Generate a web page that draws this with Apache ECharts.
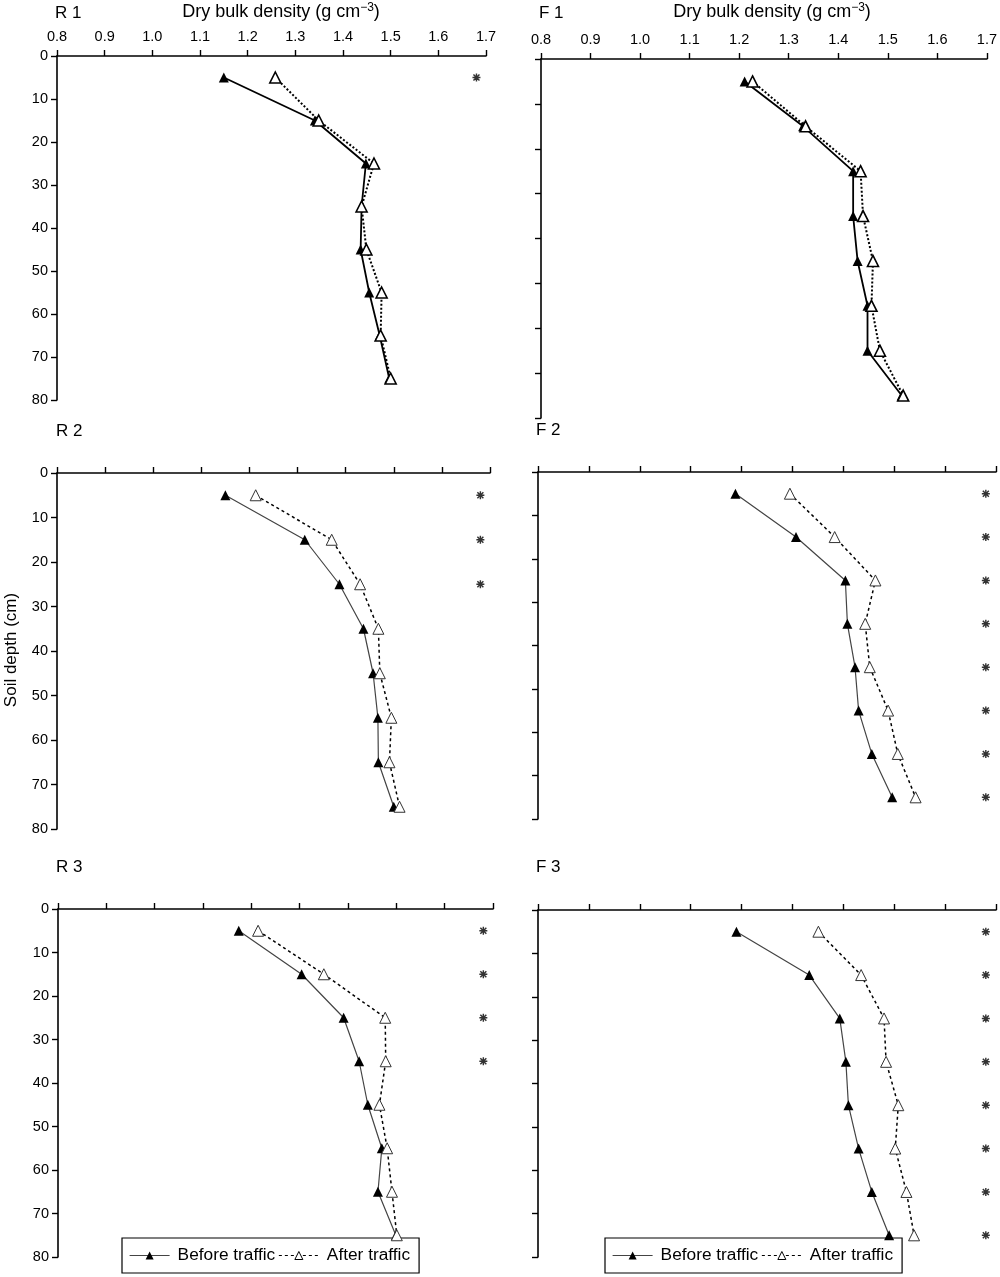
<!DOCTYPE html>
<html><head><meta charset="utf-8">
<script src="https://cdn.jsdelivr.net/npm/echarts@6/dist/echarts.min.js"></script>
<style>html,body{margin:0;padding:0;background:#fff}#c{width:1000px;height:1277px}</style>
</head><body><div id="c"></div>
<script>
// ---- data ----
const depths = [5, 15, 25, 35, 45, 55, 65, 75];
const xTickValues = [0.8, 0.9, 1.0, 1.1, 1.2, 1.3, 1.4, 1.5, 1.6, 1.7];
const yTickValues = [0, 10, 20, 30, 40, 50, 60, 70, 80];
const panelNames = ['R 1', 'F 1', 'R 2', 'F 2', 'R 3', 'F 3'];
const seriesNames = ['Before traffic', 'After traffic'];

const r1Before = [1.150, 1.341, 1.448, 1.439, 1.437, 1.455, 1.477, 1.497];
const r1After  = [1.258, 1.349, 1.465, 1.439, 1.449, 1.481, 1.479, 1.500];
const f1Before = [1.211, 1.329, 1.430, 1.430, 1.439, 1.459, 1.459, 1.528];
const f1After  = [1.227, 1.334, 1.445, 1.450, 1.470, 1.467, 1.484, 1.531];
const r2Before = [1.150, 1.315, 1.387, 1.437, 1.457, 1.467, 1.468, 1.500];
const r2After  = [1.213, 1.371, 1.430, 1.468, 1.471, 1.495, 1.491, 1.512];
const f2Before = [1.188, 1.307, 1.404, 1.408, 1.423, 1.430, 1.456, 1.496];
const f2After  = [1.295, 1.383, 1.463, 1.443, 1.452, 1.488, 1.507, 1.542];
const r3Before = [1.174, 1.304, 1.391, 1.423, 1.441, 1.470, 1.462, 1.499];
const r3After  = [1.214, 1.350, 1.477, 1.478, 1.465, 1.481, 1.491, 1.501];
const f3Before = [1.190, 1.333, 1.393, 1.405, 1.410, 1.430, 1.456, 1.490];
const f3After  = [1.351, 1.435, 1.480, 1.484, 1.508, 1.502, 1.524, 1.539];

// depths with significant difference (asterisks)
const r1Sig = [5];
const f1Sig = [];
const r2Sig = [5, 15, 25];
const f2Sig = [5, 15, 25, 35, 45, 55, 65, 75];
const r3Sig = [5, 15, 25, 35];
const f3Sig = [5, 15, 25, 35, 45, 55, 65, 75];
const sigX = 1.68;

// ---- layout / styles ----
const FONT = '"Liberation Sans", Arial, Helvetica, sans-serif';
const panels = [
  {before: r1Before, after: r1After, sig: r1Sig, left: 57, top: 56, width: 429, height: 344, xLab: true, yLab: true, heavy: true, lx: 55, ly: 14},
  {before: f1Before, after: f1After, sig: f1Sig, left: 541, top: 59, width: 448, height: 359, xLab: true, yLab: false, heavy: true, lx: 539, ly: 14},
  {before: r2Before, after: r2After, sig: r2Sig, left: 57, top: 473, width: 433, height: 356, xLab: false, yLab: true, heavy: false, lx: 56, ly: 432},
  {before: f2Before, after: f2After, sig: f2Sig, left: 538, top: 472, width: 458, height: 347, xLab: false, yLab: false, heavy: false, lx: 536, ly: 431},
  {before: r3Before, after: r3After, sig: r3Sig, left: 58, top: 909, width: 435, height: 348, xLab: false, yLab: true, heavy: false, lx: 56, ly: 868},
  {before: f3Before, after: f3After, sig: f3Sig, left: 538, top: 910, width: 458, height: 347, xLab: false, yLab: false, heavy: false, lx: 536, ly: 868}
];

const asteriskPath = 'path://M0 4.1L10 4.1L10 5.9L0 5.9Z M4.1 0L5.9 0L5.9 10L4.1 10Z M0.6 1.9L1.9 0.6L9.4 8.1L8.1 9.4Z M8.1 0.6L9.4 1.9L1.9 9.4L0.6 8.1Z M3 3L7 3L7 7L3 7Z';

const grid = [], xAxis = [], yAxis = [], series = [], graphic = [];
panels.forEach((p, i) => {
  grid.push({left: p.left, top: p.top, width: p.width, height: p.height, containLabel: false});
  xAxis.push({
    type: 'value', gridIndex: i, position: 'top',
    min: xTickValues[0], max: xTickValues[xTickValues.length - 1], interval: 0.1,
    axisLine: {show: true, onZero: false, lineStyle: {color: '#000', width: 1.6}},
    axisTick: {show: true, inside: false, length: 6, lineStyle: {color: '#000', width: 1.4}},
    axisLabel: {show: p.xLab, margin: 12, color: '#000', fontSize: 14.5, fontFamily: FONT,
      formatter: v => v.toFixed(1)},
    splitLine: {show: false}
  });
  yAxis.push({
    type: 'value', gridIndex: i, inverse: true,
    min: yTickValues[0], max: yTickValues[yTickValues.length - 1], interval: 10,
    axisLine: {show: true, onZero: false, lineStyle: {color: '#000', width: 1.6}},
    axisTick: {show: true, inside: false, length: 6, lineStyle: {color: '#000', width: 1.4}},
    axisLabel: {show: p.yLab, margin: 9, color: '#000', fontSize: 14.5, fontFamily: FONT},
    splitLine: {show: false}
  });
  series.push({
    type: 'line', name: seriesNames[0], xAxisIndex: i, yAxisIndex: i,
    data: p.before.map((v, k) => [v, depths[k]]),
    symbol: 'triangle', symbolSize: 10, z: 3,
    lineStyle: {color: p.heavy ? '#000' : '#444', width: p.heavy ? 1.8 : 1.2},
    itemStyle: {color: '#000'}
  });
  series.push({
    type: 'line', name: seriesNames[1], xAxisIndex: i, yAxisIndex: i,
    data: p.after.map((v, k) => [v, depths[k]]),
    symbol: 'triangle', symbolSize: 11, z: 4,
    lineStyle: {color: '#000', width: p.heavy ? 2 : 1.5, type: p.heavy ? [2, 2] : [3, 3]},
    itemStyle: {color: '#fff', borderColor: p.heavy ? '#000' : '#333', borderWidth: p.heavy ? 1.6 : 1}
  });
  series.push({
    type: 'scatter', name: 'sig', xAxisIndex: i, yAxisIndex: i,
    data: p.sig.map(d => [sigX, d]),
    symbol: asteriskPath, symbolSize: 8, itemStyle: {color: '#000'}, z: 5
  });
  graphic.push({type: 'text', left: p.lx, top: p.ly - 9,
    style: {text: panelNames[i], fontSize: 17, fontFamily: FONT, fill: '#000'}});
});

const titleRich = {
  a: {fontSize: 18, fontFamily: FONT, fill: '#000', color: '#000'},
  s: {fontSize: 12, fontFamily: FONT, verticalAlign: 'top', color: '#000', padding: [0, 0, 8, 0]}
};
[281, 772].forEach(cx => {
  graphic.push({type: 'text', x: cx, y: 12,
    style: {text: '{a|Dry bulk density (g cm}{s|−3}{a|)}', rich: titleRich, align: 'center', verticalAlign: 'middle', fill: '#000'}});
});
graphic.push({type: 'text', x: 11, y: 650, rotation: Math.PI / 2,
  style: {text: 'Soil depth (cm)', fontSize: 17, fontFamily: FONT, fill: '#000', align: 'center', verticalAlign: 'middle'}});

const legendData = [
  {name: seriesNames[0], lineStyle: {color: '#444', width: 1.2}, itemStyle: {color: '#000'}},
  {name: seriesNames[1], lineStyle: {color: '#000', width: 1.2, type: [3, 3]}, itemStyle: {color: '#fff', borderColor: '#000', borderWidth: 1}}
];
const legendBase = {
  top: 1238, orient: 'horizontal', data: legendData, selectedMode: false,
  borderColor: '#000', borderWidth: 1.2, padding: [9, 9, 9, 7], itemWidth: 40, itemHeight: 10, itemGap: 3,
  textStyle: {fontSize: 17.3, fontFamily: FONT, color: '#000', padding: [0, 0, 0, 3]}
};

const chart = echarts.init(document.getElementById('c'), null, {renderer: 'canvas'});
chart.setOption({
  animation: false,
  backgroundColor: '#fff',
  grid, xAxis, yAxis, series, graphic,
  legend: [Object.assign({left: 122}, legendBase), Object.assign({left: 605}, legendBase)]
});
</script></body></html>
